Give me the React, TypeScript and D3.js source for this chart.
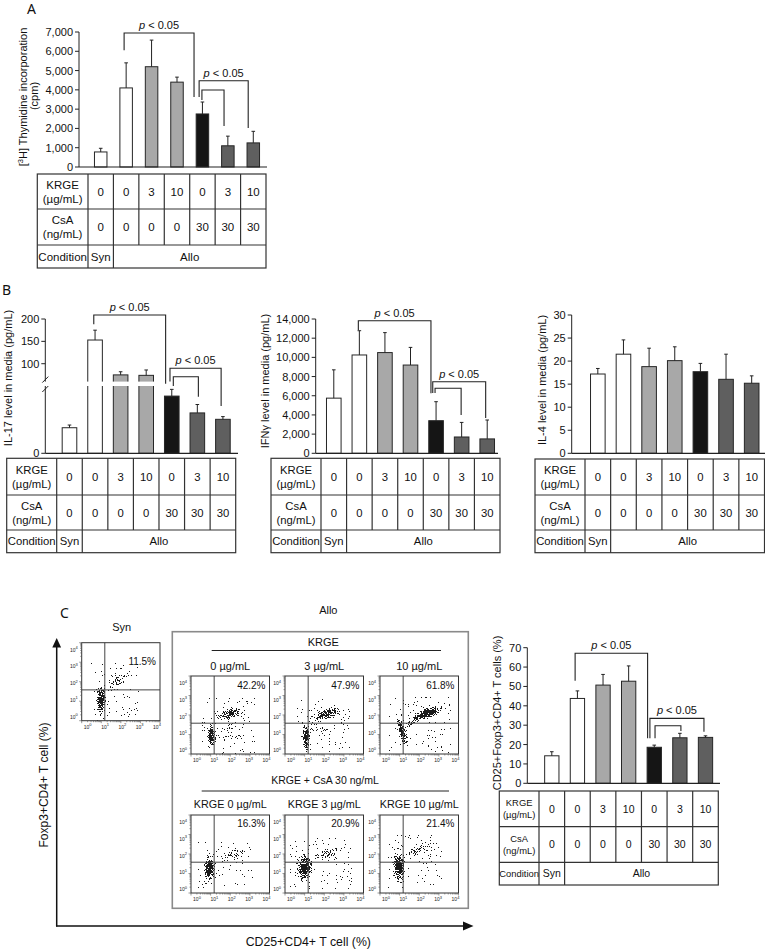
import React from "react";
import * as d3 from "d3";

const FONT = "'Liberation Sans', Arial, Helvetica, sans-serif";

// ---------- table / categories ----------
const krgeDoses = ["0", "0", "3", "10", "0", "3", "10"];
const csaDoses = ["0", "0", "0", "0", "30", "30", "30"];
const conditionLabels = ["Syn", "Allo"];
const conditionSpans = [1, 6];
const rowLabels = [["KRGE", "(µg/mL)"], ["CsA", "(ng/mL)"], ["Condition"]];
const barGroups = ["syn", "allo", "krge", "krge", "csa", "csaKrge", "csaKrge"];

// ---------- series ----------
const thymidineMean = [780, 4100, 5200, 4400, 2750, 1100, 1250];
const thymidineErr = [190, 1300, 1380, 260, 620, 500, 600];
const il17Mean = [15.2, 153, 75, 74, 34, 24, 20.2];
const il17Err = [1.6, 22, 7, 12, 4, 5, 1.6];
const ifngMean = [5750, 10250, 10500, 9200, 3400, 1700, 1500];
const ifngErr = [2950, 2530, 2080, 1840, 1980, 1520, 1970];
const il4Mean = [17.2, 21.5, 18.8, 20.1, 17.7, 16.05, 15.2];
const il4Err = [1.2, 3.1, 4.0, 3.0, 1.8, 5.45, 1.6];
const tregMean = [14.2, 43.8, 50.7, 52.7, 18.6, 23.5, 23.7];
const tregErr = [2.1, 3.9, 5.5, 7.9, 1.1, 2.3, 0.8];

// ---------- tick labels ----------
const thymidineTicks = [0, 1000, 2000, 3000, 4000, 5000, 6000, 7000];
const il17Ticks = [0, 100, 150, 200];
const ifngTicks = [0, 2000, 4000, 6000, 8000, 10000, 12000, 14000];
const il4Ticks = [0, 5, 10, 15, 20, 25, 30];
const tregTicks = [0, 10, 20, 30, 40, 50, 60, 70];

// ---------- significance brackets (bar index, values in data units) ----------
type Bracket = { from: number; to: number; top: number; fromEnd: number; toEnd: number; label: boolean };
const thymidineBrackets: Bracket[] = [
  { from: 0.92, to: 3.67, top: 6950, fromEnd: 6060, toEnd: 3630, label: true },
  { from: 3.87, to: 5.8, top: 4475, fromEnd: 3630, toEnd: 2020, label: true },
  { from: 3.98, to: 4.85, top: 3990, fromEnd: 3470, toEnd: 2125, label: false },
];
const il17Brackets: Bracket[] = [
  { from: 0.95, to: 3.76, top: 209, fromEnd: 188, toEnd: 50, label: true },
  { from: 3.93, to: 5.93, top: 89.7, fromEnd: 60, toEnd: 28.1, label: true },
  { from: 4.06, to: 5.04, top: 70.9, fromEnd: 40, toEnd: 33.6, label: false },
];
const ifngBrackets: Bracket[] = [
  { from: 0.96, to: 3.8, top: 13820, fromEnd: 12850, toEnd: 6255, label: true },
  { from: 3.87, to: 5.94, top: 7465, fromEnd: 6290, toEnd: 3680, label: true },
  { from: 3.96, to: 4.98, top: 6780, fromEnd: 6290, toEnd: 3995, label: false },
];
const tregBrackets: Bracket[] = [
  { from: 0.91, to: 3.74, top: 67.1, fromEnd: 52.9, toEnd: 23.2, label: true },
  { from: 3.83, to: 5.94, top: 33.5, fromEnd: 23.2, toEnd: 26.6, label: true },
  { from: 4.03, to: 5.04, top: 29.7, fromEnd: 23.2, toEnd: 27, label: false },
];

// ---------- flow cytometry ----------
const flowTitles = ["0 µg/mL", "3 µg/mL", "10 µg/mL", "KRGE 0 µg/mL", "KRGE 3 µg/mL", "KRGE 10 µg/mL"];
const flowPercents = ["42.2%", "47.9%", "61.8%", "16.3%", "20.9%", "21.4%"];
const synPercent = "11.5%";
const flowExps = ["0", "1", "2", "3", "4"];
const gateCD25 = 1.18;
const gateFoxp3 = 1.58;
// cluster: [cx(log), cy(log), rx(dec), ry(dec), angle, density]
const synClusters = [[1.0, 1.05, 0.3, 0.9, 0, 0.9], [1.02, 1.0, 0.14, 0.45, 0, 1.0], [1.9, 2.05, 0.85, 0.3, -30, 0.4]];
const allo0Clusters = [[1.02, 0.96, 0.22, 0.75, 0, 0.95], [2.0, 2.06, 0.85, 0.32, -15, 0.75], [1.9, 1.1, 1.1, 0.6, 0, 0.2]];
const allo3Clusters = [[1.08, 0.82, 0.22, 0.85, 0, 0.95], [2.17, 2.06, 0.85, 0.32, -15, 0.85], [1.8, 1.2, 1.0, 0.6, 0, 0.18]];
const allo10Clusters = [[1.15, 1.15, 0.25, 0.85, -15, 0.85], [2.44, 2.1, 0.85, 0.32, -18, 0.95], [1.7, 1.7, 0.65, 0.28, -40, 0.5]];
const csa0Clusters = [[0.94, 1.26, 0.35, 0.8, 0, 0.95], [0.95, 1.35, 0.18, 0.35, 0, 1.0], [2.08, 1.94, 0.85, 0.3, -10, 0.45]];
const csa3Clusters = [[1.0, 1.3, 0.45, 0.85, 0, 0.95], [0.98, 1.35, 0.2, 0.35, 0, 1.0], [2.17, 2.03, 0.9, 0.32, -15, 0.5]];
const csa10Clusters = [[0.98, 1.34, 0.4, 0.85, 0, 0.95], [0.98, 1.4, 0.18, 0.35, 0, 1.0], [2.0, 2.23, 0.9, 0.3, -20, 0.5]];
const flowClusters = [allo0Clusters, allo3Clusters, allo10Clusters, csa0Clusters, csa3Clusters, csa10Clusters];

const groupFill: Record<string, string> = {
  syn: "#ffffff",
  allo: "#ffffff",
  krge: "#a8a8a8",
  csa: "#151515",
  csaKrge: "#5f5f5f",
};
const INK = "#222";

interface PanelProps {
  means: number[];
  errs: number[];
  ticks: number[];
  fmt: (v: number) => string;
  y: d3.ScaleLinear<number, number>;
  axisX: number;
  axisRight: number;
  colStart: number;
  tableRight: number;
  tableX0: number;
  rows: number[];
  barW: number;
  tableFont: number;
  labelFont: number;
  brackets: Bracket[];
  gap?: [number, number];
}

function BarPanel(p: PanelProps) {
  const xi = d3.scaleLinear().domain([-0.5, 6.5]).range([p.colStart, p.tableRight]);
  const y = p.y;
  const y0 = y(0);
  const yMax = y(p.ticks[p.ticks.length - 1]);
  const [r0, r1, r2, r3] = p.rows;
  const labelCx = (p.tableX0 + p.colStart) / 2;
  const fs = p.tableFont;
  const lf = p.labelFont;
  const rowCenters = [(r0 + r1) / 2, (r1 + r2) / 2, (r2 + r3) / 2];
  let acc = 0;
  const condCells = conditionLabels.map((lab, i) => {
    const start = acc;
    acc += conditionSpans[i];
    return { lab, cx: xi(start + conditionSpans[i] / 2 - 0.5) };
  });
  return (
    <g>
      <line x1={p.axisX} x2={p.axisX} y1={yMax} y2={y0} stroke={INK} />
      {p.means.map((m, i) => (
        <rect
          key={"b" + i}
          x={xi(i) - p.barW / 2}
          y={y(m)}
          width={p.barW}
          height={y0 - y(m)}
          fill={groupFill[barGroups[i]]}
          stroke="#262626"
          strokeWidth={1}
        />
      ))}
      {p.means.map((m, i) => {
        const cx = xi(i);
        const yt = y(m + p.errs[i]);
        return (
          <g key={"e" + i} stroke={INK} strokeWidth={1}>
            <line x1={cx} x2={cx} y1={y(m)} y2={yt} />
            <line x1={cx - 1.8} x2={cx + 1.8} y1={yt} y2={yt} />
          </g>
        );
      })}
      {p.gap && (
        <g>
          <rect x={p.axisX - 6} y={p.gap[0]} width={p.axisRight - p.axisX + 6} height={p.gap[1] - p.gap[0]} fill="#fff" />
          <line x1={p.axisX - 3} x2={p.axisX + 3} y1={p.gap[0] + 1} y2={p.gap[0] - 5} stroke={INK} />
          <line x1={p.axisX - 3} x2={p.axisX + 3} y1={p.gap[1] + 6} y2={p.gap[1]} stroke={INK} />
        </g>
      )}
      <line x1={p.axisX} x2={p.axisRight} y1={y0} y2={y0} stroke={INK} strokeWidth={1.2} />
      {p.ticks.map((t) => (
        <g key={"t" + t}>
          <line x1={p.axisX - 4} x2={p.axisX} y1={y(t)} y2={y(t)} stroke={INK} />
          <text x={p.axisX - 6} y={y(t) + 4} textAnchor="end" fontSize={11} fill="#111">
            {p.fmt(t)}
          </text>
        </g>
      ))}
      {p.brackets.map((b, i) => {
        const x1 = xi(b.from);
        const x2 = xi(b.to);
        const yt = y(b.top);
        return (
          <g key={"k" + i}>
            <path d={`M${x1},${y(b.fromEnd)}V${yt}H${x2}V${y(b.toEnd)}`} fill="none" stroke={INK} strokeWidth={1.1} />
            {b.label && (
              <text x={(x1 + x2) / 2} y={yt - 4} textAnchor="middle" fontSize={11} fill="#111">
                <tspan fontStyle="italic">p</tspan>
                {" < 0.05"}
              </text>
            )}
          </g>
        );
      })}
      {/* table */}
      <g stroke="#333" strokeWidth={1.2} fill="none">
        <rect x={p.tableX0} y={r0} width={p.tableRight - p.tableX0} height={r3 - r0} />
        <line x1={p.tableX0} x2={p.tableRight} y1={r1} y2={r1} />
        <line x1={p.tableX0} x2={p.tableRight} y1={r2} y2={r2} />
        <line x1={p.colStart} x2={p.colStart} y1={r0} y2={r3} />
        <line x1={xi(0.5)} x2={xi(0.5)} y1={r0} y2={r3} />
        {d3.range(1, 6).map((k) => (
          <line key={k} x1={xi(k + 0.5)} x2={xi(k + 0.5)} y1={r0} y2={r2} />
        ))}
      </g>
      <g fontSize={fs} textAnchor="middle" fill="#111">
        {rowLabels.map((lines, ri) =>
          lines.map((ln, li) => (
            <text
              key={ri + "-" + li}
              x={labelCx}
              fontSize={lf}
              y={rowCenters[ri] + (lines.length === 2 ? (li === 0 ? -0.62 : 0.62) * lf : 0) + lf * 0.36}
            >
              {ln}
            </text>
          ))
        )}
        {krgeDoses.map((d, i) => (
          <text key={"kd" + i} x={xi(i)} y={rowCenters[0] + fs * 0.36}>
            {d}
          </text>
        ))}
        {csaDoses.map((d, i) => (
          <text key={"cd" + i} x={xi(i)} y={rowCenters[1] + fs * 0.36}>
            {d}
          </text>
        ))}
        {condCells.map((c) => (
          <text key={c.lab} x={c.cx} y={rowCenters[2] + fs * 0.36}>
            {c.lab}
          </text>
        ))}
      </g>
    </g>
  );
}

interface FlowProps {
  id: string;
  x: number;
  y: number;
  w: number;
  h: number;
  clusters: number[][];
  pct: string;
  pctY: number;
}

function FlowPlot(f: FlowProps) {
  const sx = d3.scaleLinear().domain([0, 4]).range([f.x, f.x + f.w]);
  const sy = d3.scaleLinear().domain([0, 4]).range([f.y + f.h, f.y]);
  const kx = f.w / 4;
  const ky = f.h / 4;
  const px = d3.scalePoint<string>().domain(flowExps).range([f.x + 6, f.x + f.w - 3]);
  const py = d3.scalePoint<string>().domain(flowExps).range([f.y + f.h - 4, f.y + 7]);
  const minor = d3.range(4).flatMap((dec) => d3.range(2, 10).map((k) => dec + Math.log10(k)));
  const major = d3.range(0, 5);
  return (
    <g>
      <clipPath id={"clip-" + f.id}>
        <rect x={f.x} y={f.y} width={f.w} height={f.h} />
      </clipPath>
      <g clipPath={`url(#clip-${f.id})`}>
        <g filter="url(#speckle)">
          {f.clusters.map((c, i) => (
            <ellipse
              key={i}
              cx={sx(c[0])}
              cy={sy(c[1])}
              rx={c[2] * kx}
              ry={c[3] * ky}
              transform={`rotate(${c[4]} ${sx(c[0])} ${sy(c[1])})`}
              fill="url(#blob)"
              fillOpacity={c[5]}
            />
          ))}
        </g>
      </g>
      <line x1={sx(gateCD25)} x2={sx(gateCD25)} y1={f.y} y2={f.y + f.h} stroke="#444" strokeWidth={1} />
      <line x1={f.x} x2={f.x + f.w} y1={sy(gateFoxp3)} y2={sy(gateFoxp3)} stroke="#444" strokeWidth={1} />
      <rect x={f.x} y={f.y} width={f.w} height={f.h} fill="none" stroke="#333" strokeWidth={1} />
      <g stroke="#555" strokeWidth={0.6}>
        {minor.map((v, i) => (
          <line key={"mx" + i} x1={sx(v)} x2={sx(v)} y1={f.y + f.h} y2={f.y + f.h + 1.5} />
        ))}
        {major.map((v) => (
          <line key={"Mx" + v} x1={sx(v)} x2={sx(v)} y1={f.y + f.h} y2={f.y + f.h + 2.5} />
        ))}
        {minor.map((v, i) => (
          <line key={"my" + i} x1={f.x - 1.5} x2={f.x} y1={sy(v)} y2={sy(v)} />
        ))}
        {major.map((v) => (
          <line key={"My" + v} x1={f.x - 2.5} x2={f.x} y1={sy(v)} y2={sy(v)} />
        ))}
      </g>
      <g fill="#222" fontSize={5}>
        {flowExps.map((e) => (
          <text key={"lx" + e} x={px(e)} y={f.y + f.h + 8} textAnchor="middle">
            10<tspan fontSize={4} dy={-2.5}>{e}</tspan>
          </text>
        ))}
        {flowExps.map((e) => (
          <text key={"ly" + e} x={f.x - 4} y={(py(e) as number) + 2} textAnchor="end">
            10<tspan fontSize={4} dy={-2.5}>{e}</tspan>
          </text>
        ))}
      </g>
      <text x={f.x + f.w - 4} y={f.pctY} textAnchor="end" fontSize={10} fill="#111">
        {f.pct}
      </text>
    </g>
  );
}

export default function App() {
  const comma = d3.format(",");
  const plain = (v: number) => String(v);

  const flowCols = [191, 285, 380];
  const flowRows = [676, 815];
  const fw = 78.5;
  const fh = 78;

  return (
    <svg
      width={765}
      height={950}
      viewBox="0 0 765 950"
      style={{ position: "absolute", left: 0, top: 0, background: "#fff" }}
      fontFamily={FONT}
    >
      <defs>
        <radialGradient id="blob">
          <stop offset="0" stopColor="#fff" stopOpacity={1} />
          <stop offset="0.45" stopColor="#fff" stopOpacity={0.75} />
          <stop offset="1" stopColor="#fff" stopOpacity={0} />
        </radialGradient>
        <filter id="speckle" colorInterpolationFilters="sRGB" x="-10%" y="-10%" width="120%" height="120%">
          <feTurbulence type="fractalNoise" baseFrequency="0.85" numOctaves={2} seed={7} result="noise" />
          <feColorMatrix
            in="noise"
            type="matrix"
            values="0 0 0 0 0  0 0 0 0 0  0 0 0 0 0  1 0 0 0 0"
            result="nA"
          />
          <feComposite in="nA" in2="SourceAlpha" operator="arithmetic" k1={0} k2={12} k3={5.04} k4={-8.14} result="mix" />
          <feComponentTransfer in="mix" result="thr">
            <feFuncA type="discrete" tableValues="0 1" />
          </feComponentTransfer>
          <feFlood floodColor="#1a1a1a" result="ink" />
          <feComposite in="ink" in2="thr" operator="in" />
        </filter>
      </defs>
      <rect x={0} y={0} width={765} height={950} fill="#fff" />

      {/* Panel letters */}
      <text x={27} y={14} fontSize={14} fontFamily="'Noto Sans', sans-serif" fill="#111">A</text>
      <text x={2} y={295} fontSize={14} fontFamily="'Noto Sans', sans-serif" fill="#111">B</text>
      <text x={60} y={618} fontSize={14} fontFamily="'Noto Sans', sans-serif" fill="#111">C</text>

      {/* Panel A */}
      <BarPanel
        means={thymidineMean}
        errs={thymidineErr}
        ticks={thymidineTicks}
        fmt={comma}
        y={d3.scaleLinear().domain([0, 7000]).range([167, 32])}
        axisX={79}
        axisRight={267}
        colStart={88}
        tableRight={266}
        tableX0={37.3}
        rows={[174, 209, 245, 268]}
        barW={12.5}
        tableFont={11.5}
        labelFont={11.5}
        brackets={thymidineBrackets}
      />
      <g fontSize={11} fill="#111" textAnchor="middle">
        <text transform="translate(26.5,97) rotate(-90)">
          [<tspan fontSize={7.5} dy={-4}>3</tspan>
          <tspan dy={4}>H] Thymidine incorporation</tspan>
        </text>
        <text transform="translate(37.5,96) rotate(-90)">(cpm)</text>
      </g>

      {/* Panel B1: IL-17 (broken axis) */}
      <BarPanel
        means={il17Mean}
        errs={il17Err}
        ticks={il17Ticks}
        fmt={plain}
        y={d3.scaleLinear().domain([0, 40, 60, 200]).range([453.3, 386, 381.6, 319])}
        axisX={45.3}
        axisRight={238}
        colStart={56.7}
        tableRight={235.7}
        tableX0={6.7}
        rows={[458.3, 495, 530, 552.7]}
        barW={14.6}
        tableFont={11.3}
        labelFont={11.3}
        brackets={il17Brackets}
        gap={[381.6, 386]}
      />
      {/* Panel B2: IFNγ */}
      <BarPanel
        means={ifngMean}
        errs={ifngErr}
        ticks={ifngTicks}
        fmt={comma}
        y={d3.scaleLinear().domain([0, 14000]).range([453.3, 319])}
        axisX={315.7}
        axisRight={498}
        colStart={321}
        tableRight={500}
        tableX0={271}
        rows={[458.3, 495, 530, 552.7]}
        barW={14.6}
        tableFont={11.3}
        labelFont={11.3}
        brackets={ifngBrackets}
      />
      {/* Panel B3: IL-4 */}
      <BarPanel
        means={il4Mean}
        errs={il4Err}
        ticks={il4Ticks}
        fmt={plain}
        y={d3.scaleLinear().domain([0, 30]).range([453.3, 315])}
        axisX={571.7}
        axisRight={765}
        colStart={585}
        tableRight={764.5}
        tableX0={535}
        rows={[459, 495, 530, 552.7]}
        barW={14.6}
        tableFont={11.3}
        labelFont={11.3}
        brackets={[]}
      />
      <g fontSize={11} fill="#111" textAnchor="middle" style={{ whiteSpace: "pre" }}>
        <text transform="translate(12,378) rotate(-90)">{"IL-17 level in media  (pg/mL)"}</text>
        <text transform="translate(269,381) rotate(-90)">{"IFNγ level in media  (pg/mL)"}</text>
        <text transform="translate(545.7,380) rotate(-90)">{"IL-4 level in media  (pg/mL)"}</text>
      </g>

      {/* Panel C bar chart */}
      <BarPanel
        means={tregMean}
        errs={tregErr}
        ticks={tregTicks}
        fmt={plain}
        y={d3.scaleLinear().domain([0, 70]).range([783.3, 647.7])}
        axisX={527.3}
        axisRight={720}
        colStart={539}
        tableRight={718.3}
        tableX0={499.3}
        rows={[791, 826.7, 862.3, 885]}
        barW={14.3}
        tableFont={10.5}
        labelFont={9.4}
        brackets={tregBrackets}
      />
      <text transform="translate(500.7,713) rotate(-90)" fontSize={11} fill="#111" textAnchor="middle">
        CD25+Foxp3+CD4+ T cells (%)
      </text>

      {/* Panel C flow plots */}
      <text x={121.7} y={631} fontSize={11} textAnchor="middle" fill="#111">Syn</text>
      <FlowPlot id="syn" x={81.7} y={642.7} w={78.3} h={78} clusters={synClusters} pct={synPercent} pctY={665} />

      <text x={328.3} y={614} fontSize={11} textAnchor="middle" fill="#111">Allo</text>
      <rect x={172.3} y={631.7} width={296} height={276.6} fill="none" stroke="#8a8a8a" strokeWidth={1.6} />
      <text x={323.3} y={646} fontSize={11} textAnchor="middle" fill="#111">KRGE</text>
      <line x1={211.7} x2={441} y1={650.5} y2={650.5} stroke={INK} strokeWidth={1} />
      <text x={325} y={783.5} fontSize={10.5} textAnchor="middle" fill="#111">KRGE + CsA 30 ng/mL</text>
      <line x1={201.7} x2={449} y1={791} y2={791} stroke={INK} strokeWidth={1} />

      {flowClusters.map((cl, i) => {
        const row = Math.floor(i / 3);
        const col = i % 3;
        const x = flowCols[col];
        const y = flowRows[row];
        return (
          <g key={"fp" + i}>
            <text x={x + fw / 2} y={y - (row === 0 ? 6 : 7.5)} fontSize={row === 0 ? 11 : 10.8} textAnchor="middle" fill="#111">
              {flowTitles[i]}
            </text>
            <FlowPlot id={"f" + i} x={x} y={y} w={fw} h={fh} clusters={cl} pct={flowPercents[i]} pctY={y + (row === 0 ? 13 : 12)} />
          </g>
        );
      })}

      {/* big axes */}
      <g stroke="#111" strokeWidth={1.5}>
        <line x1={56.7} x2={56.7} y1={926.5} y2={645} />
        <line x1={56} x2={464} y1={926} y2={926} />
      </g>
      <polygon points="56.7,638 52.3,647.5 61.1,647.5" fill="#111" />
      <polygon points="473.5,926 463,921.5 463,930.5" fill="#111" />
      <text transform="translate(47.5,785) rotate(-90)" fontSize={12} textAnchor="middle" fill="#111">
        Foxp3+CD4+ T cell (%)
      </text>
      <text x={308.3} y={946} fontSize={12.3} textAnchor="middle" fill="#111">
        CD25+CD4+ T cell (%)
      </text>
    </svg>
  );
}
